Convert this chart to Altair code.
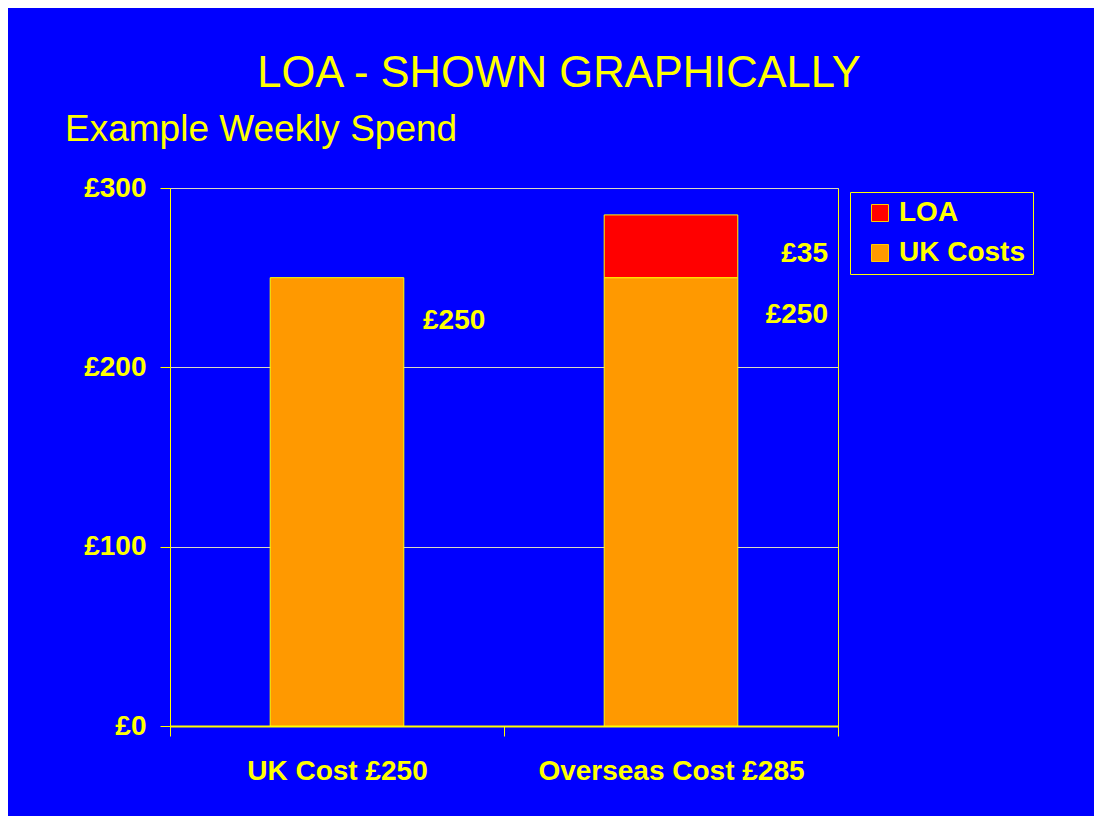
import altair as alt
import pandas as pd

categories = ["UK Cost £250", "Overseas Cost £285", "Overseas Cost £285"]
series = ["UK Costs", "UK Costs", "LOA"]
values = [250, 250, 35]
series_order = ["LOA", "UK Costs"]
series_colors = ["#FF0000", "#FF9900"]
y_ticks = [0, 100, 200, 300]

label_cat = ["UK Cost £250", "Overseas Cost £285", "Overseas Cost £285"]
label_val = [250, 250, 285]
label_text = ["£250", "£250", "£35"]

df = pd.DataFrame({"cat": categories, "series": series, "value": values})
df["order"] = [1 if s == "UK Costs" else 2 for s in df["series"]]
lab = pd.DataFrame({"cat": label_cat, "value": label_val, "text": label_text})

FONT = "Liberation Sans"
YEL = "#FFFF00"
cat_order = ["UK Cost £250", "Overseas Cost £285"]

xenc = alt.X("cat:N", sort=cat_order, title=None,
             scale=alt.Scale(paddingInner=0, paddingOuter=0),
             axis=alt.Axis(labelAngle=0, labelFont=FONT, labelFontSize=28,
                           labelFontWeight="bold", labelColor=YEL, labelLimit=600,
                           labelPadding=21, tickBand="extent", tickSize=10,
                           tickColor=YEL, domainColor=YEL, domainWidth=2))

bars = alt.Chart(df).mark_bar(width=alt.RelativeBandSize(0.4), stroke=YEL,
                              strokeWidth=1).encode(
    x=xenc,
    y=alt.Y("sum(value):Q", title=None,
            scale=alt.Scale(domain=[0, 300], nice=False),
            axis=alt.Axis(values=y_ticks, labelExpr="'£' + datum.value",
                          labelFont=FONT, labelFontSize=28,
                          labelFontWeight="bold", labelColor=YEL,
                          labelPadding=14, tickSize=10, tickColor=YEL,
                          domainColor=YEL, domainWidth=1,
                          grid=True, gridColor="#D8D8C0", gridWidth=1)),
    color=alt.Color("series:N",
                    scale=alt.Scale(domain=series_order, range=series_colors),
                    legend=alt.Legend(title=None, orient="none", legendX=680,
                                      legendY=4, labelFont=FONT,
                                      labelFontSize=28, labelFontWeight="bold",
                                      labelColor=YEL, symbolType="square",
                                      labelExpr="datum.label + '\u00a0'",
                                      symbolSize=289, symbolStrokeColor="#FFCC00",
                                      symbolStrokeWidth=1, strokeColor=YEL,
                                      fillColor="#0000FF", padding=7,
                                      rowPadding=12, symbolOffset=9,
                                      labelOffset=5)),
    order=alt.Order("order:Q"),
)

base_lab = alt.Chart(lab)
lab_uk = base_lab.transform_filter(alt.datum.cat == "UK Cost £250").mark_text(
    font=FONT, fontSize=28, fontWeight="bold", color=YEL, align="left",
    baseline="middle", dx=86, dy=43).encode(
    x=alt.X("cat:N", sort=cat_order), y=alt.Y("value:Q"), text="text:N")
lab_os250 = base_lab.transform_filter(
    (alt.datum.cat == "Overseas Cost £285") & (alt.datum.value == 250)).mark_text(
    font=FONT, fontSize=28, fontWeight="bold", color=YEL, align="right",
    baseline="middle", dx=157, dy=37).encode(
    x=alt.X("cat:N", sort=cat_order), y=alt.Y("value:Q"), text="text:N")
lab_os35 = base_lab.transform_filter(
    (alt.datum.cat == "Overseas Cost £285") & (alt.datum.value == 285)).mark_text(
    font=FONT, fontSize=28, fontWeight="bold", color=YEL, align="right",
    baseline="middle", dx=157, dy=39).encode(
    x=alt.X("cat:N", sort=cat_order), y=alt.Y("value:Q"), text="text:N")

title = alt.Chart(pd.DataFrame({"t": ["LOA - SHOWN GRAPHICALLY"]})).mark_text(
    font=FONT, fontSize=43.5, color=YEL, align="center", baseline="alphabetic").encode(
    x=alt.value(389), y=alt.value(-101), text="t:N")
subtitle = alt.Chart(pd.DataFrame({"t": ["Example Weekly Spend"]})).mark_text(
    font=FONT, fontSize=37, color=YEL, align="left", baseline="alphabetic").encode(
    x=alt.value(-105), y=alt.value(-47), text="t:N")

chart = alt.layer(bars, lab_uk, lab_os250, lab_os35, title, subtitle).properties(
    width=668, height=538, background="#0000FF",
    padding={"left": 162, "top": 180, "right": 256, "bottom": 90},
    autosize=alt.AutoSizeParams(type="none"),
).configure_view(stroke=YEL, strokeWidth=1)

chart.save("out.html", embed_options={"renderer": "svg", "actions": False})
